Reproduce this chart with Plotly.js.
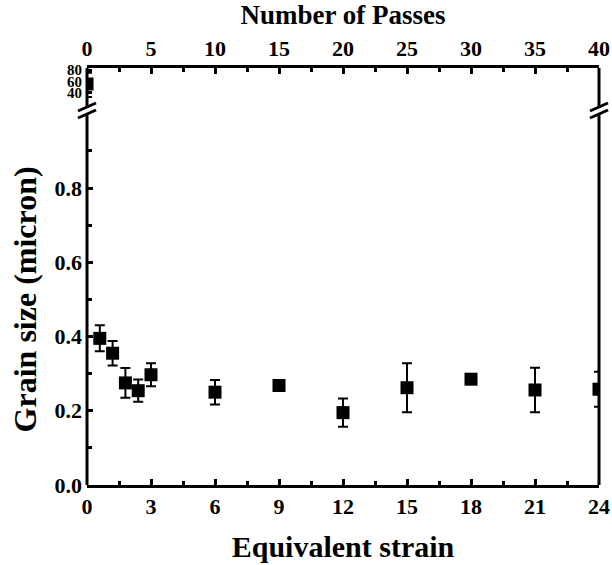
<!DOCTYPE html>
<html>
<head>
<meta charset="utf-8">
<script src="https://cdn.plot.ly/plotly-3.0.1.min.js"></script>
<style>html,body{margin:0;padding:0;background:#fff;}#chart{width:612px;height:565px;}</style>
</head>
<body>
<div id="chart"></div>
<script>
// Lower panel data (strain vs grain size, micron)
const strain = [0.6, 1.2, 1.8, 2.4, 3.0, 6, 9, 12, 15, 18, 21, 24];
const grainSize = [0.395, 0.355, 0.275, 0.254, 0.297, 0.250, 0.268, 0.195, 0.262, 0.285, 0.256, 0.258];
const grainErr = [0.035, 0.033, 0.040, 0.030, 0.031, 0.033, 0.010, 0.038, 0.066, 0.012, 0.060, 0.047];
// Upper panel (as-received material)
const strain0 = [0];
const grain0 = [55];
const grain0ErrPlus = [20];
const grain0ErrMinus = [23];
// Axis ticks
const strainTicks = [0, 3, 6, 9, 12, 15, 18, 21, 24];
const grainTicks = [0, 0.2, 0.4, 0.6, 0.8];
const passTicks = [0, 5, 10, 15, 20, 25, 30, 35, 40];
const upperTicks = [40, 60, 80];

const FONT = 'Liberation Serif, Times New Roman, serif';
const tf = {family: FONT, size: 22, color: '#000', weight: 'bold'};

const marker = {symbol: 'square', size: 13, color: '#000'};
const traces = [
  {x: strain, y: grainSize, type: 'scatter', mode: 'markers', marker: marker,
   error_y: {type: 'data', array: grainErr, visible: true, color: '#000', thickness: 2, width: 5},
   xaxis: 'x', yaxis: 'y', showlegend: false},
  {x: strain0, y: grain0, type: 'scatter', mode: 'markers', marker: marker,
   error_y: {type: 'data', symmetric: false, array: grain0ErrPlus, arrayminus: grain0ErrMinus, visible: true, color: '#000', thickness: 2, width: 5},
   xaxis: 'x', yaxis: 'y2', showlegend: false},
  {x: [], y: [], type: 'scatter', mode: 'markers', xaxis: 'x2', yaxis: 'y2', showlegend: false, hoverinfo: 'skip'}
];

const W = 512, H = 417;
const px = v => v / W, py = v => v / H;
function brk(x) {
  const s = [];
  const yc = [py(485 - 107), py(485 - 114)];
  s.push({type: 'path', xref: 'paper', yref: 'paper', layer: 'above', line: {width: 0}, fillcolor: '#fff',
    path: `M ${x - px(9)} ${yc[0] - py(4)} L ${x + px(9)} ${yc[0] + py(4)} L ${x + px(9)} ${yc[1] + py(4)} L ${x - px(9)} ${yc[1] - py(4)} Z`});
  yc.forEach(y => s.push({type: 'line', xref: 'paper', yref: 'paper', layer: 'above',
    x0: x - px(9), y0: y - py(4), x1: x + px(9), y1: y + py(4), line: {color: '#000', width: 3}}));
  return s;
}

const shapes = [
  {type: 'line', xref: 'paper', yref: 'paper', layer: 'above', x0: 0, x1: 0, y0: 0, y1: 1, line: {color: '#000', width: 3}},
  {type: 'line', xref: 'paper', yref: 'paper', layer: 'above', x0: 1, x1: 1, y0: 0, y1: 1, line: {color: '#000', width: 3}},
  ...brk(0), ...brk(1)
];

const layout = {
  width: 612, height: 565,
  margin: {l: 87, r: 13, t: 68, b: 80},
  paper_bgcolor: '#fff', plot_bgcolor: '#fff',
  showlegend: false,
  xaxis: {
    range: [0, 24], tickmode: 'array', tickvals: strainTicks, ticktext: strainTicks.map(String),
    ticks: 'inside', ticklen: 6, tickwidth: 3, tickcolor: '#000',
    minor: {dtick: 1.5, tick0: 0, ticks: 'inside', ticklen: 4, tickwidth: 3, tickcolor: '#000'},
    showline: true, linewidth: 3, linecolor: '#000', showgrid: false, zeroline: false,
    tickfont: tf, anchor: 'y', side: 'bottom',
    title: {text: 'Equivalent strain', font: {family: FONT, size: 30, color: '#000', weight: 'bold'}, standoff: 18}
  },
  xaxis2: {
    range: [0, 40], tickmode: 'array', tickvals: passTicks, ticktext: passTicks.map(String),
    ticks: 'inside', ticklen: 6, tickwidth: 3, tickcolor: '#000',
    minor: {dtick: 2.5, tick0: 0, ticks: 'inside', ticklen: 4, tickwidth: 3, tickcolor: '#000'},
    showline: true, linewidth: 3, linecolor: '#000', showgrid: false, zeroline: false,
    tickfont: tf, anchor: 'y2', side: 'top', overlaying: 'x',
    title: {text: 'Number of Passes', font: {family: FONT, size: 27, color: '#000', weight: 'bold'}, standoff: 5}
  },
  yaxis: {
    domain: [0, 371.25 / 417], range: [0, 1.0], tickmode: 'array', tickvals: grainTicks, ticktext: grainTicks.map(v => v.toFixed(1)),
    ticks: 'inside', ticklen: 6, tickwidth: 3, tickcolor: '#000',
    minor: {dtick: 0.1, tick0: 0, ticks: 'inside', ticklen: 5, tickwidth: 3, tickcolor: '#000'},
    showline: false, showgrid: false, zeroline: false, anchor: 'x',
    tickfont: tf, ticklabelstandoff: 4,
    title: {text: 'Grain size (micron)', font: {family: FONT, size: 32, color: '#000', weight: 'bold'}, standoff: 8}
  },
  yaxis2: {
    domain: [(485 - 98.2) / 417, 1], range: [30, 83.6], tickmode: 'array', tickvals: upperTicks,
    ticks: 'inside', ticklen: 5, tickwidth: 3, tickcolor: '#000',
    showline: false, showgrid: false, zeroline: false, anchor: 'x',
    tickfont: {family: FONT, size: 15, color: '#000', weight: 'bold'}, ticklabelstandoff: 4
  },
  shapes: shapes
};

Plotly.newPlot('chart', traces, layout, {displayModeBar: false, staticPlot: true});
</script>
</body>
</html>
